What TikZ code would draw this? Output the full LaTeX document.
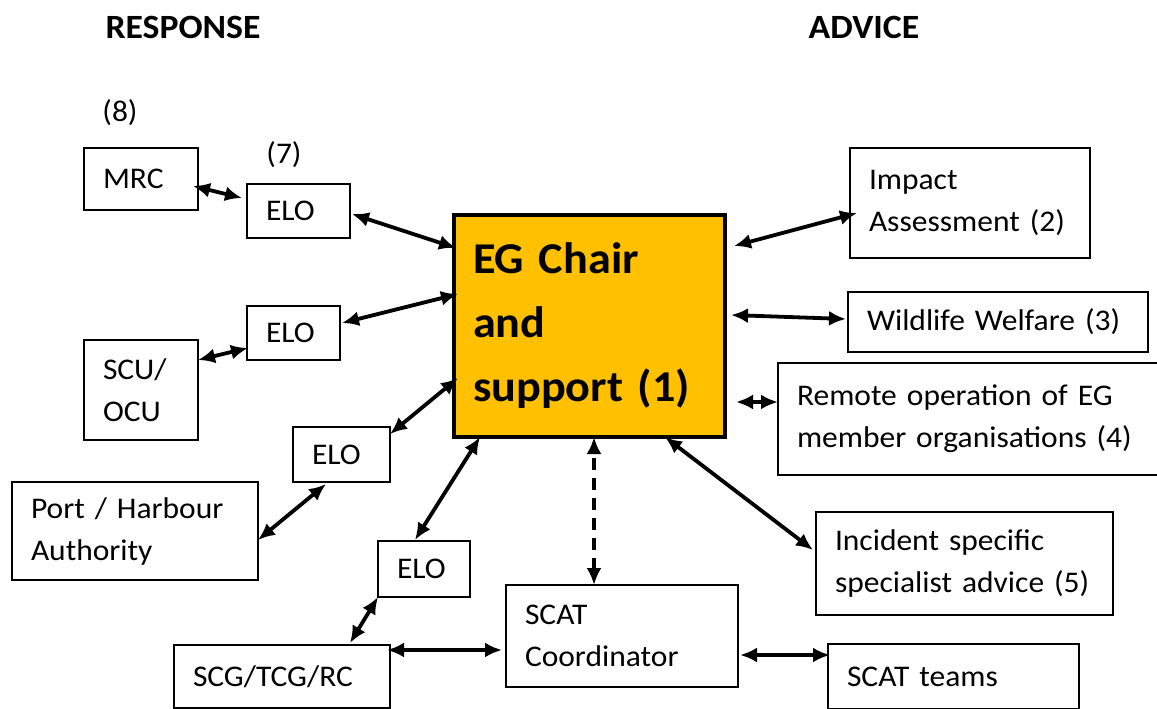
\documentclass[tikz,border=0pt]{standalone}
\usepackage{fontspec}
\setmainfont{Carlito}[FakeStretch=1.05]
\usetikzlibrary{arrows.meta, calc}

\definecolor{egorange}{HTML}{FFC000}

\tikzset{
	box/.style={draw, line width=2pt, align=left, anchor=north west,
		inner xsep=19pt, inner ysep=0pt, outer sep=0pt,
		font=\fontsize{30}{42}\selectfont},
	mainbox/.style={box, line width=3.8pt, fill=egorange,
		font=\fontsize{44}{64}\selectfont\bfseries},
	link/.style={line width=3.8pt, {Latex[length=17pt,width=15pt]}-{Latex[length=17pt,width=15pt]}},
	heading/.style={font=\fontsize{34}{40}\selectfont\bfseries},
	tag/.style={font=\fontsize{30}{36}\selectfont}
}

\begin{document}
\begin{tikzpicture}[x=1pt, y=-1pt]
	\useasboundingbox (0,0) rectangle (1157,709);

	\node[heading] (response) at (183,27) {RESPONSE};
	\node[heading] (advice)   at (864,27) {ADVICE};
	\node[tag] (eight) at (120,113) {(8)};
	\node[tag] (seven) at (284,155) {(7)};

	% response side
	\node[box, text width=76pt,  minimum height=62pt]  (mrc)  at (84,148)  {MRC};
	\node[box, text width=65pt,  minimum height=54pt]  (elo1) at (247,184) {ELO};
	\node[box, text width=55pt,  minimum height=54pt]  (elo2) at (247,306) {ELO};
	\node[box, text width=76pt,  minimum height=100pt] (scu)  at (84,340)  {SCU/\\OCU};
	\node[box, text width=59pt,  minimum height=55pt]  (elo3) at (293,427) {ELO};
	\node[box, text width=208pt, minimum height=98pt]  (port) at (12,482)  {Port / Harbour\\Authority};
	\node[box, text width=54pt,  minimum height=56pt]  (elo4) at (378,541) {ELO};
	\node[box, text width=178pt, minimum height=63pt]  (scg)  at (174,645) {SCG/TCG/RC};
	\node[box, text width=194pt, minimum height=102pt] (scatc) at (506,585) {SCAT\\Coordinator};
	\node[box, text width=213pt, minimum height=65pt]  (scatt) at (828,644) {SCAT teams};

	\node[mainbox, text width=233pt, minimum height=222pt] (main) at (454,215)
		{EG Chair\\and\\support (1)};

	% advice side
	\node[box, text width=202pt, minimum height=110pt] (impact) at (850,148) {Impact\\Assessment (2)};
	\node[box, text width=262pt, minimum height=60pt]  (wild)   at (848,292) {Wildlife Welfare (3)};
	\node[box, text width=346pt, minimum height=112pt] (remote) at (778,363) {Remote operation of EG\\member organisations (4)};
	\node[box, text width=259pt, minimum height=103pt] (incident) at (816,512) {Incident specific\\specialist advice (5)};

	\draw[link] ($(mrc.north east)+(-5,38)$)   -- ($(elo1.north west)+(-5,14)$);
	\draw[link] ($(elo1.north east)+(2,30)$)   -- ($(main.north west)+(2,33)$);
	\draw[link] ($(elo2.north east)+(2,17)$)   -- ($(main.north west)+(4,79)$);
	\draw[link] ($(scu.north east)+(0,20)$)    -- ($(elo2.north west)+(1,42)$);
	\draw[link] ($(elo3.north east)+(0,7)$)    -- ($(main.north west)+(4,163)$);
	\draw[link] ($(port.north east)+(0,58)$)   -- ($(elo3.south west)+(33,2)$);
	\draw[link] ($(elo4.north west)+(37,-1)$)  -- ($(main.south west)+(26,0)$);
	\draw[link] ($(scg.north west)+(176,-2)$)  -- (elo4.south west);
	\draw[link] ($(scg.north east)+(-3,5)$)    -- ($(scatc.north west)+(-4,65)$);
	\draw[link, dash pattern=on 12pt off 8pt] ($(scatc.north west)+(88,0)$) -- ($(main.south west)+(140,0)$);
	\draw[link] ($(main.north east)+(9,31)$)   -- ($(impact.north west)+(7,65)$);
	\draw[link] ($(main.north east)+(6,100)$)  -- ($(wild.north west)+(-2,27)$);
	\draw[link] ($(main.north east)+(11,187)$) -- ($(remote.north west)+(0,39)$);
	\draw[link] ($(main.south west)+(211,0)$)  -- ($(incident.north west)+(-3,38)$);
	\draw[link] ($(scatc.north east)+(2,70)$)  -- ($(scatt.north west)+(2,11)$);
\end{tikzpicture}
\end{document}
